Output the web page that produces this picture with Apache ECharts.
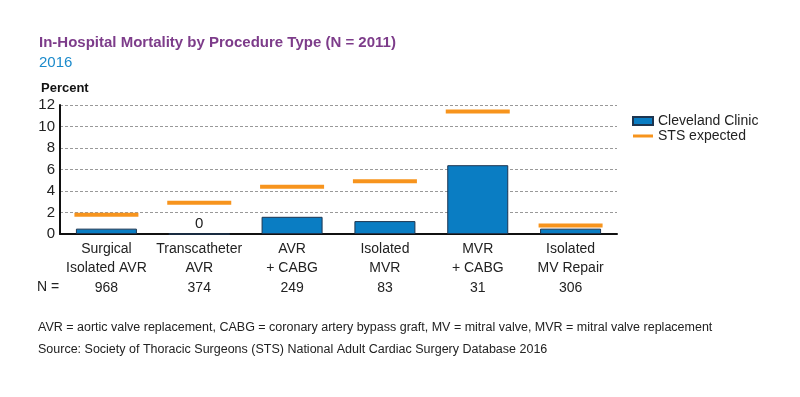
<!DOCTYPE html>
<html><head><meta charset="utf-8">
<script src="https://cdn.jsdelivr.net/npm/echarts@6/dist/echarts.min.js"></script>
<style>html,body{margin:0;padding:0;background:#fff}#c{width:800px;height:397px}</style>
</head><body><div id="c"></div>
<script>
const categories = ['Surgical\nIsolated AVR','Transcatheter\nAVR','AVR\n+ CABG','Isolated\nMVR','MVR\n+ CABG','Isolated\nMV Repair'];
const clinicValues = [0.5, 0, 1.6, 1.2, 6.4, 0.5];
const stsValues = [1.8, 2.9, 4.4, 4.9, 11.4, 0.8];
const nValues = ['968','374','249','83','31','306'];
const yTicks = [0,2,4,6,8,10,12];

const FONT = '"Liberation Sans Narrow","Liberation Sans",Arial,sans-serif';
const chart = echarts.init(document.getElementById('c'));
chart.setOption({
  animation:false,
  textStyle:{fontFamily:FONT},
  title:[
    {text:'In-Hospital Mortality by Procedure Type (N = 2011)',left:34,top:30,textStyle:{fontFamily:FONT,fontSize:15,fontWeight:'bold',color:'#7D3C8A'}},
    {text:'2016',left:34,top:50,textStyle:{fontFamily:FONT,fontSize:15,fontWeight:'normal',color:'#1B8ACB'}},
    {text:'Percent',left:36,top:77,textStyle:{fontFamily:FONT,fontSize:13,fontWeight:'bold',color:'#111'}},
    {text:'AVR = aortic valve replacement, CABG = coronary artery bypass graft, MV = mitral valve, MVR = mitral valve replacement',left:33,top:316,textStyle:{fontFamily:FONT,fontSize:12.5,fontWeight:'normal',color:'#222'}},
    {text:'Source: Society of Thoracic Surgeons (STS) National Adult Cardiac Surgery Database 2016',left:33,top:338,textStyle:{fontFamily:FONT,fontSize:12.5,fontWeight:'normal',color:'#222'}}
  ],
  graphic:[{type:'text',left:37,top:280,style:{text:'N =',font:'14px '+FONT,fill:'#222'}}],
  legend:{
    orient:'vertical',left:627,top:109,itemGap:1,itemWidth:20,itemHeight:8,padding:[5,5,5,5],
    textStyle:{fontFamily:FONT,fontSize:14,color:'#222'},
    data:[
      {name:'Cleveland Clinic',icon:'rect'},
      {name:'STS expected',icon:'path://M0,0h20v3h-20z'}
    ]
  },
  grid:{left:60,right:183,top:105,bottom:163},
  xAxis:[
    {type:'category',data:categories,axisLine:{lineStyle:{color:'#111',width:2}},axisTick:{show:false},
     axisLabel:{fontFamily:FONT,fontSize:14,color:'#222',lineHeight:19,margin:6,interval:0}},
    {type:'category',data:nValues,position:'bottom',offset:39,axisLine:{show:false},axisTick:{show:false},
     axisLabel:{fontFamily:FONT,fontSize:14,color:'#222',interval:0}}
  ],
  yAxis:{type:'value',min:0,max:12,interval:2,
    axisLine:{show:true,lineStyle:{color:'#111',width:2}},axisTick:{show:false},
    axisLabel:{fontFamily:FONT,fontSize:15,color:'#222',margin:5,formatter:v=>yTicks.includes(v)?String(v):''},
    splitLine:{lineStyle:{type:[3,2],color:'#999',width:1}}
  },
  series:[
    {name:'Cleveland Clinic',type:'bar',barWidth:61,
     itemStyle:{color:'#0A7DC3',borderColor:'#1D3550',borderWidth:1},
     data:clinicValues.map(v=>({value:v,label:{show:v===0,position:'top',distance:2,fontFamily:FONT,fontSize:15,color:'#222',formatter:'{c}'}})),
     z:2},
    {name:'STS expected',type:'scatter',symbol:'rect',symbolSize:[64,4],
     itemStyle:{color:'#F7941D',opacity:1},data:stsValues,z:3}
  ]
});
</script></body></html>
